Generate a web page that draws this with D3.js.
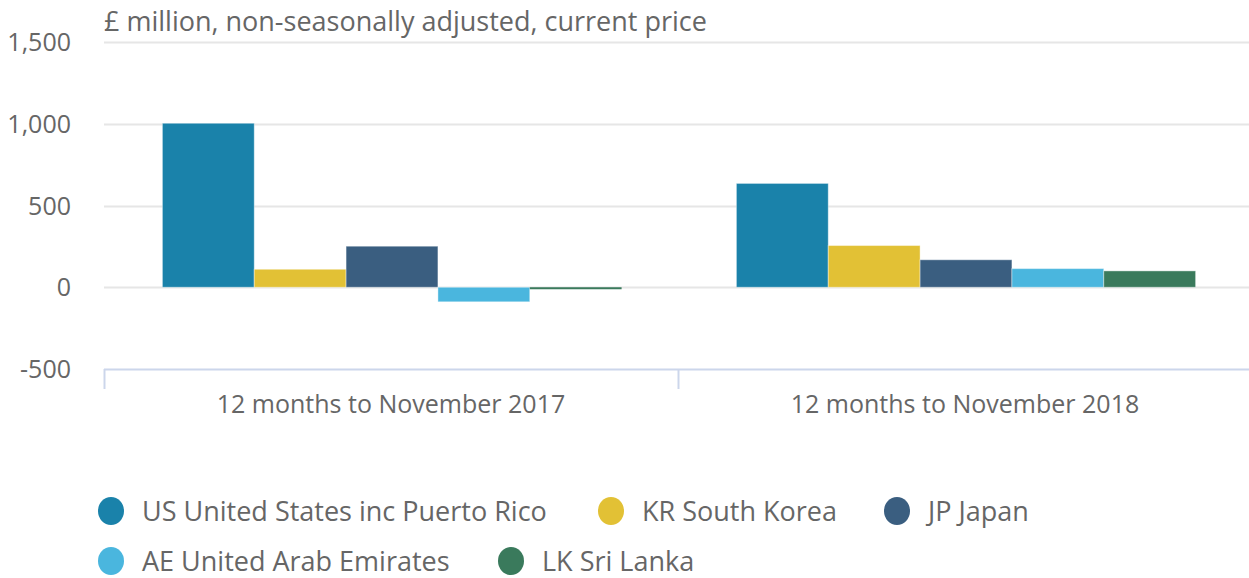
<!DOCTYPE html>
<html>
<head>
<meta charset="utf-8">
<script src="https://cdn.jsdelivr.net/npm/d3@7"></script>
<style>
  body { margin: 0; background: #fff; }
  text { font-family: "Open Sans", sans-serif; fill: #666; }
</style>
</head>
<body>
<div class="chart"></div>
<script>
// data
var periods = ['12 months to November 2017', '12 months to November 2018'];
var countries = ['US United States inc Puerto Rico', 'KR South Korea', 'JP Japan', 'AE United Arab Emirates', 'LK Sri Lanka'];
var colors = ['#1a82aa', '#e2c135', '#3a5e80', '#4ab6de', '#3a7a5c'];
var values2017 = [1003, 110, 251, -89, -6];
var values2018 = [635, 255, 168, 114, 100];
var yTicks = [-500, 0, 500, 1000, 1500];
var unitLabel = '£ million, non-seasonally adjusted, current price';

var fullWidth = 1249;
var fullHeight = 578;
var margin = { top: 42, right: 0, bottom: 209, left: 104 };
var width = 1148;
var height = fullHeight - margin.top - margin.bottom;

var svg = d3.select('.chart')
  .append('svg')
  .attr('width', fullWidth)
  .attr('height', fullHeight);

var g = svg.append('g')
  .attr('transform', `translate(${margin.left}, ${margin.top})`);

var rows = periods.map((p, i) => ({ period: p, values: [values2017, values2018][i] }));

var x0 = d3.scaleBand().domain(periods).range([0, width]);
var x1 = d3.scaleBand().domain(countries)
  .range([x0.bandwidth() * 0.1, x0.bandwidth() * 0.9]);
var y = d3.scaleLinear().domain([-500, 1500]).range([height, 0]);

// grid lines
g.selectAll('.grid')
  .data(yTicks.filter(t => t > -500))
  .enter()
  .append('line')
  .attr('x1', 0)
  .attr('x2', fullWidth - margin.left)
  .attr('y1', d => Math.round(y(d)) + 0.5)
  .attr('y2', d => Math.round(y(d)) + 0.5)
  .style('stroke', '#e6e6e6')
  .style('stroke-width', 2);

// y labels (hyphen for negatives like the original)
g.selectAll('.ylab')
  .data(yTicks)
  .enter()
  .append('text')
  .attr('x', -33)
  .attr('y', d => y(d) + 9)
  .style('text-anchor', 'end')
  .style('font-size', '25px')
  .text(d => d3.format(',')(d).replace('\u2212', '-'));

// unit label
g.append('text')
  .attr('x', 0)
  .attr('y', -11)
  .style('font-size', '27px')
  .text(unitLabel);

// bars
var groups = g.selectAll('.grp')
  .data(rows)
  .enter()
  .append('g')
  .attr('transform', d => `translate(${x0(d.period)}, 0)`);

groups.selectAll('rect')
  .data(d => d.values.map((v, i) => ({ key: countries[i], value: v, color: colors[i] })))
  .enter()
  .append('rect')
  .attr('x', d => x1(d.key) + 1)
  .attr('width', x1.bandwidth())
  .attr('y', d => y(Math.max(0, d.value)))
  .attr('height', d => Math.max(2, Math.abs(y(d.value) - y(0))))
  .style('fill', d => d.color)
  .style('stroke', d => Math.abs(y(d.value) - y(0)) > 4 ? '#fff' : 'none')
  .style('stroke-opacity', 0.4)
  .style('stroke-width', 1);

// x axis
var xAxis = g.append('g').attr('transform', `translate(0, ${height})`);
xAxis.append('line')
  .attr('x1', 0).attr('x2', fullWidth - margin.left)
  .attr('y1', 0.5).attr('y2', 0.5)
  .style('stroke', '#ccd6eb').style('stroke-width', 2);
xAxis.selectAll('.tick')
  .data(periods.concat(['end']))
  .enter()
  .append('line')
  .attr('x1', (d, i) => i * x0.step() + 0.5)
  .attr('x2', (d, i) => i * x0.step() + 0.5)
  .attr('y1', 0).attr('y2', 20)
  .style('stroke', '#ccd6eb').style('stroke-width', 2);
xAxis.selectAll('.xlab')
  .data(periods)
  .enter()
  .append('text')
  .attr('x', d => x0(d) + x0.bandwidth() / 2)
  .attr('y', 44)
  .style('text-anchor', 'middle')
  .style('font-size', '25px')
  .text(d => d);

// legend
var legendPos = [[111, 511], [611, 511], [897, 511], [111, 561], [511, 561]];
var legend = svg.selectAll('.legend')
  .data(countries)
  .enter()
  .append('g')
  .attr('transform', (d, i) => `translate(${legendPos[i][0]}, ${legendPos[i][1]})`);
legend.append('ellipse')
  .attr('rx', 13).attr('ry', 14)
  .style('fill', (d, i) => colors[i]);
legend.append('text')
  .attr('x', 31)
  .attr('y', 10)
  .style('font-size', '27px')
  .text(d => d);
</script>
</body>
</html>
